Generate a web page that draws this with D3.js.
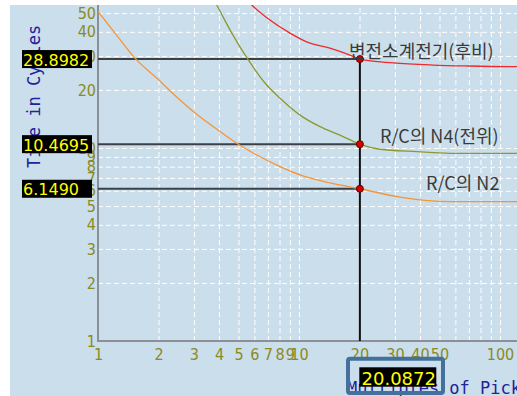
<!DOCTYPE html>
<html>
<head>
<meta charset="utf-8">
<script src="https://cdn.jsdelivr.net/npm/d3@7"></script>
<style>
  html, body { margin: 0; padding: 0; background: #ffffff; overflow: hidden; }
  svg { display: block; }
</style>
</head>
<body>
<svg id="chart" width="517" height="396"></svg>
<script>
// Axis ticks: pickup multiples (x) and operating time in cycles (y)
const xTickLabels = [1, 2, 3, 4, 5, 6, 7, 8, 9, 10, 20, 30, 40, 50, 100];
const xGridValues = [2, 3, 4, 5, 6, 7, 8, 9, 10, 20, 30, 40, 50, 60, 70, 80, 90, 100];
const yTickLabels = [1, 2, 3, 4, 5, 6, 7, 8, 9, 10, 20, 30, 40, 50];
const yGridValues = [2, 3, 4, 5, 6, 7, 8, 9, 10, 20, 30, 40, 50];

// Series names
const seriesNames = ["변전소계전기(후비)", "R/C의 N4(전위)", "R/C의 N2"];

// 변전소계전기(후비): multiple of pickup / time in cycles
const backupM = [4.4, 5.0, 5.82, 7.17, 9.02, 10.92, 14.26, 17.93, 20.0872, 29.4, 46.4, 70, 121.5, 160];
const backupT = [78, 66, 55.1, 46.0, 39.4, 35.5, 32.9, 30.3, 28.8982, 27.6, 26.9, 26.6, 26.4, 26.4];

// R/C의 N4(전위)
const n4M = [3.4, 3.895, 4.63, 5.595, 6.91, 8.05, 10.12, 12.72, 16.0, 20.0872, 25.3, 38.6, 56.4, 121.5, 160];
const n4T = [71, 55.1, 39.4, 28.6, 21.2, 18.1, 14.8, 12.9, 11.65, 10.4695, 9.85, 9.57, 9.39, 9.39, 9.39];

// R/C의 N2
const n2M = [1.0, 1.215, 1.557, 1.959, 2.464, 3.04, 3.95, 4.97, 6.04, 8.05, 10.12, 14.26, 20.0872, 31.8, 56.4, 121.5, 160];
const n2T = [51, 39.4, 28.6, 23.05, 18.37, 15.18, 12.40, 10.49, 9.31, 8.0, 7.25, 6.59, 6.149, 5.57, 5.27, 5.27, 5.27];

// Cursor reading
const cursorM = 20.0872;
const cursorT = [28.8982, 10.4695, 6.1490];

// ---- layout & style ----
const plotLeft = 98, plotBottom = 341, plotTop = 5, plotRight = 517;
const seriesColors = ["#ee2a2a", "#8a9a30", "#f79436"];
const labelPos = [[349, 58], [380, 143], [426, 190]];
const tickColor = "#8a8a24";
const titleColor = "#22229a";
const narrowFont = "'Liberation Sans Narrow', 'Arial Narrow', 'DejaVu Sans Condensed', sans-serif";
const monoFont = "'DejaVu Sans Mono', 'Liberation Mono', monospace";

const series = seriesNames.map((name, i) => {
  const M = [backupM, n4M, n2M][i];
  const T = [backupT, n4T, n2T][i];
  return { name, points: M.map((m, j) => ({ m, t: T[j] })) };
});

const x = d3.scaleLog().domain([1, 100]).range([plotLeft, 500]);
const y = d3.scaleLog().domain([1, 100]).range([plotBottom, plotBottom - 386]);

const svg = d3.select("#chart");

// window background
svg.append("rect").attr("x", 10).attr("y", 5)
  .attr("width", 507).attr("height", 391).attr("fill", "#cadeeb");

svg.append("defs").append("clipPath").attr("id", "plotClip")
  .append("rect").attr("x", plotLeft).attr("y", plotTop)
  .attr("width", plotRight - plotLeft).attr("height", plotBottom - plotTop);

// dashed grid
svg.append("g")
  .attr("transform", `translate(0,${plotBottom})`)
  .call(d3.axisBottom(x).tickValues(xGridValues).tickSize(-(plotBottom - plotTop)).tickFormat(""))
  .call(g => g.select(".domain").remove())
  .selectAll("line").attr("stroke", "#ffffff").attr("stroke-width", 1).attr("stroke-dasharray", "5,3");

svg.append("g")
  .attr("transform", `translate(${plotLeft},0)`)
  .call(d3.axisLeft(y).tickValues(yGridValues).tickSize(-(plotRight - plotLeft)).tickFormat(""))
  .call(g => g.select(".domain").remove())
  .selectAll("line").attr("stroke", "#ffffff").attr("stroke-width", 1).attr("stroke-dasharray", "5,3");

// axis lines
svg.append("line").attr("x1", plotLeft).attr("x2", plotLeft)
  .attr("y1", plotTop).attr("y2", plotBottom + 1)
  .attr("stroke", "#8c9096").attr("stroke-width", 2);
svg.append("line").attr("x1", plotLeft).attr("x2", plotRight)
  .attr("y1", plotBottom).attr("y2", plotBottom)
  .attr("stroke", "#8c9096").attr("stroke-width", 2);

// tick labels
const xAxis = svg.append("g")
  .attr("transform", `translate(0,${plotBottom})`)
  .call(d3.axisBottom(x).tickValues(xTickLabels).tickSize(0).tickPadding(8).tickFormat(d3.format("d")));
xAxis.select(".domain").remove();
xAxis.selectAll("text").attr("fill", tickColor).style("font-family", narrowFont).style("font-size", "16px");

const yAxis = svg.append("g")
  .attr("transform", `translate(${plotLeft},0)`)
  .call(d3.axisLeft(y).tickValues(yTickLabels).tickSize(0).tickPadding(2).tickFormat(d3.format("d")));
yAxis.select(".domain").remove();
yAxis.selectAll("text").attr("fill", tickColor).style("font-family", narrowFont).style("font-size", "16px");

// axis titles
svg.append("text")
  .attr("transform", "translate(40,168) rotate(-90)")
  .attr("fill", titleColor).style("font-family", monoFont).style("font-size", "17px")
  .text("Time in Cycles");
svg.append("text")
  .attr("x", 347).attr("y", 394)
  .attr("fill", titleColor).style("font-family", monoFont).style("font-size", "17px")
  .text("Multiples of Pickup");

// cursor lines
const cursor = svg.append("g");
cursorT.forEach(t => {
  cursor.append("line")
    .attr("x1", plotLeft).attr("x2", x(cursorM))
    .attr("y1", y(t)).attr("y2", y(t))
    .attr("stroke", "#3c4046").attr("stroke-width", 2);
});
cursor.append("line")
  .attr("x1", x(cursorM)).attr("x2", x(cursorM))
  .attr("y1", y(d3.max(cursorT))).attr("y2", plotBottom)
  .attr("stroke", "#111111").attr("stroke-width", 2);

// curves
const line = d3.line().x(d => x(d.m)).y(d => y(d.t)).curve(d3.curveMonotoneX);
svg.append("g").attr("clip-path", "url(#plotClip)")
  .selectAll("path").data(series).join("path")
  .attr("d", d => line(d.points))
  .attr("fill", "none")
  .attr("stroke", (d, i) => seriesColors[i])
  .attr("stroke-width", 1.3);

// cursor markers
svg.append("g").selectAll("circle").data(cursorT).join("circle")
  .attr("cx", x(cursorM)).attr("cy", d => y(d)).attr("r", 3.5)
  .attr("fill", "#d40000").attr("stroke", "#6a0000").attr("stroke-width", 1);

// series labels
svg.append("g").selectAll("text").data(series).join("text")
  .attr("x", (d, i) => labelPos[i][0]).attr("y", (d, i) => labelPos[i][1])
  .attr("fill", "#3a3a3a")
  .style("font-family", "'Noto Sans CJK KR', 'Noto Sans', sans-serif")
  .style("font-size", "18px")
  .text(d => d.name);

// cursor value readouts on the time axis
const readY = svg.append("g").selectAll("g").data(cursorT).join("g")
  .attr("transform", d => `translate(22,${y(d)})`);
readY.append("rect").attr("x", 0).attr("y", -9).attr("width", 70).attr("height", 18).attr("fill", "#000000");
readY.append("text").attr("x", 1).attr("y", 6.5)
  .attr("fill", "#ffff00")
  .style("font-family", "'DejaVu Sans', sans-serif").style("font-size", "16px")
  .text(d => d.toFixed(4));

// cursor value readout on the pickup axis
svg.append("rect").attr("x", 348).attr("y", 358.7).attr("width", 95).attr("height", 34.3).attr("rx", 2)
  .attr("fill", "none").attr("stroke", "#44709c").attr("stroke-width", 4);
svg.append("rect").attr("x", 359.3).attr("y", 367.3).attr("width", 77).attr("height", 19.4).attr("fill", "#000000");
svg.append("text").attr("x", 361.5).attr("y", 385)
  .attr("fill", "#ffff00")
  .style("font-family", "'DejaVu Sans', sans-serif").style("font-size", "18px")
  .text(cursorM.toFixed(4));
</script>
</body>
</html>
